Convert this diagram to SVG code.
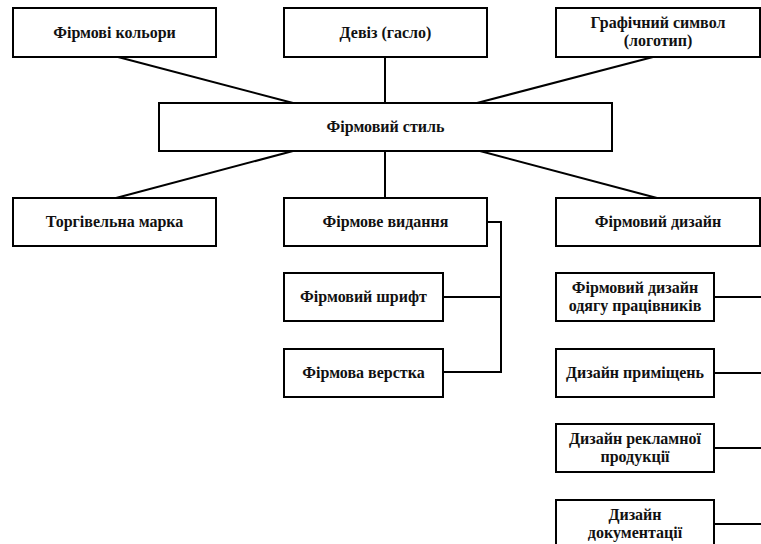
<svg xmlns="http://www.w3.org/2000/svg" width="761" height="544" viewBox="0 0 761 544">
<style>
.box{fill:#fff;stroke:#000;stroke-width:2}
text{font-family:'Liberation Serif','Times New Roman','DejaVu Serif',serif;font-weight:bold;font-size:16px;text-anchor:middle;fill:#111}
.c{stroke:#000;stroke-width:2;fill:none}
</style>
<rect width="761" height="544" fill="#fff"/>
<g id="connectors">
<line class="c" x1="118" y1="57" x2="293" y2="103"/>
<line class="c" x1="385" y1="57" x2="385" y2="103"/>
<line class="c" x1="653" y1="57" x2="477" y2="103"/>
<line class="c" x1="293" y1="151" x2="116" y2="198"/>
<line class="c" x1="385" y1="151" x2="385" y2="198"/>
<line class="c" x1="480" y1="151" x2="657" y2="198"/>
<polyline class="c" points="487,222 501,222 501,372 443,372"/>
<line class="c" x1="443" y1="297" x2="501" y2="297"/>
<line class="c" x1="760" y1="222" x2="761" y2="222"/>
<line class="c" x1="714" y1="297" x2="761" y2="297"/>
<line class="c" x1="714" y1="373" x2="761" y2="373"/>
<line class="c" x1="714" y1="448" x2="761" y2="448"/>
<line class="c" x1="714" y1="524" x2="761" y2="524"/>
</g>
<g id="n_kolory"><rect class="box" x="13" y="8" width="203" height="49"/><text x="114.5" y="38">Фірмові кольори</text></g>
<g id="n_deviz"><rect class="box" x="284" y="8" width="203" height="49"/><text x="385.5" y="38">Девіз (гасло)</text></g>
<g id="n_logo"><rect class="box" x="556" y="8" width="204" height="49"/><text x="658" y="28">Графічний символ</text><text x="658" y="46">(логотип)</text></g>
<g id="n_styl"><rect class="box" x="159" y="103" width="453" height="48"/><text x="385.5" y="132">Фірмовий стиль</text></g>
<g id="n_marka"><rect class="box" x="13" y="198" width="203" height="48"/><text x="114.5" y="227">Торгівельна марка</text></g>
<g id="n_vydannia"><rect class="box" x="284" y="198" width="203" height="48"/><text x="385.5" y="227">Фірмове видання</text></g>
<g id="n_dyzain"><rect class="box" x="556" y="198" width="204" height="48"/><text x="658" y="227">Фірмовий дизайн</text></g>
<g id="n_shryft"><rect class="box" x="284" y="273" width="159" height="48"/><text x="363.5" y="302">Фірмовий шрифт</text></g>
<g id="n_verstka"><rect class="box" x="284" y="349" width="159" height="48"/><text x="363.5" y="378">Фірмова верстка</text></g>
<g id="n_odiag"><rect class="box" x="556" y="273" width="158" height="48"/><text x="635" y="293">Фірмовий дизайн</text><text x="635" y="311">одягу працівників</text></g>
<g id="n_prym"><rect class="box" x="556" y="349" width="158" height="48"/><text x="635" y="378">Дизайн приміщень</text></g>
<g id="n_reklama"><rect class="box" x="556" y="424" width="158" height="48"/><text x="635" y="444">Дизайн рекламної</text><text x="635" y="462">продукції</text></g>
<g id="n_dokum"><rect class="box" x="556" y="500" width="158" height="50"/><text x="635" y="520">Дизайн</text><text x="635" y="538">документації</text></g>
</svg>
